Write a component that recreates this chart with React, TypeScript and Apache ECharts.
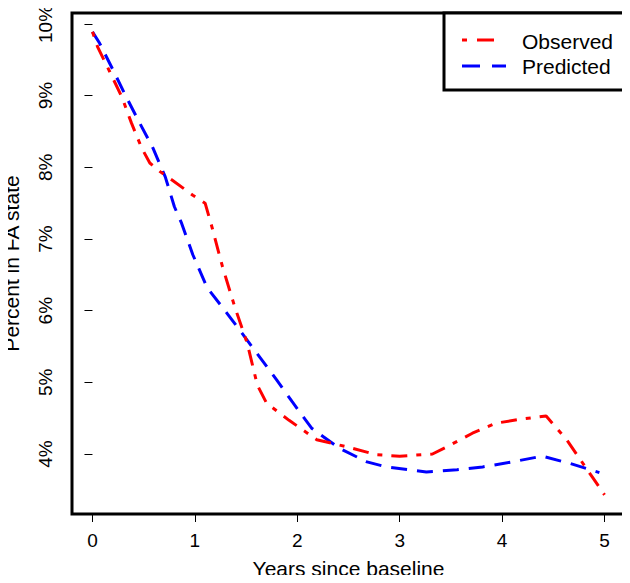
import React, { useEffect, useRef } from "react";
import * as echarts from "echarts";

const obsYears = [0, 0.05, 0.17, 0.29, 0.38, 0.48, 0.56, 0.66, 0.78, 0.98, 1.1, 1.17, 1.27, 1.39, 1.51, 1.61, 1.7, 1.92, 2.19, 2.54, 2.77, 3.0, 3.32, 3.46, 3.71, 3.94, 4.2, 4.43, 4.63, 4.88, 5.0];
const obsPct = [9.89, 9.68, 9.33, 8.97, 8.62, 8.27, 8.06, 7.94, 7.82, 7.61, 7.5, 7.15, 6.61, 6.05, 5.55, 4.96, 4.71, 4.47, 4.2, 4.08, 3.99, 3.97, 4.0, 4.1, 4.29, 4.43, 4.49, 4.53, 4.2, 3.68, 3.43];

const predYears = [0, 0.07, 0.2, 0.33, 0.46, 0.59, 0.71, 0.8, 0.87, 0.98, 1.12, 1.31, 1.51, 1.8, 1.95, 2.14, 2.41, 2.68, 2.87, 3.26, 3.56, 3.81, 4.1, 4.39, 4.66, 4.95];
const predPct = [9.89, 9.73, 9.36, 8.98, 8.62, 8.27, 7.87, 7.45, 7.22, 6.78, 6.32, 5.97, 5.59, 5.03, 4.73, 4.36, 4.08, 3.89, 3.82, 3.75, 3.78, 3.82, 3.89, 3.97, 3.87, 3.74];

const xTicks = [0, 1, 2, 3, 4, 5];
const yTicks = [4, 5, 6, 7, 8, 9, 10];
const seriesNames = ["Observed", "Predicted"];

const FONT = "'Liberation Sans', Arial, sans-serif";

export default function App() {
  const ref = useRef<HTMLDivElement>(null);
  useEffect(() => {
    if (!ref.current) return;
    const chart = echarts.init(ref.current, null, { renderer: "svg" });
    const obsData = obsYears.map((x, i) => [x, obsPct[i]]);
    const predData = predYears.map((x, i) => [x, predPct[i]]);
    chart.setOption({
      animation: false,
      backgroundColor: "#fff",
      grid: {
        left: 72,
        right: 5,
        top: 13,
        bottom: 69,
        show: true,
        borderColor: "#000",
        borderWidth: 3,
        backgroundColor: "transparent",
        containLabel: false,
        outerBoundsMode: "none",
      },
      xAxis: {
        type: "value",
        min: -0.2,
        max: 5.2,
        name: "Years since baseline",
        nameLocation: "middle",
        nameGap: 44,
        nameTextStyle: { fontFamily: FONT, fontSize: 21, color: "#000" },
        axisLine: { show: false },
        splitLine: { show: false },
        axisTick: {
          show: true,
          length: 8,
          customValues: xTicks,
          lineStyle: { color: "#000", width: 1 },
        },
        axisLabel: {
          customValues: xTicks,
          margin: 17,
          fontFamily: FONT,
          fontSize: 19,
          color: "#000",
        },
      },
      yAxis: {
        type: "value",
        min: 3.163,
        max: 10.153,
        name: "Percent in FA state",
        nameLocation: "middle",
        nameGap: 50,
        nameTextStyle: { fontFamily: FONT, fontSize: 21, color: "#000" },
        axisLine: { show: false },
        splitLine: { show: false },
        axisTick: {
          show: true,
          length: 8,
          customValues: yTicks,
          lineStyle: { color: "#000", width: 1 },
        },
        axisLabel: {
          customValues: yTicks,
          rotate: 90,
          margin: 17,
          fontFamily: FONT,
          fontSize: 19,
          color: "#000",
          formatter: (v: number) => `${Math.round(v)}%`,
        },
      },
      series: [
        {
          name: seriesNames[0],
          type: "line",
          data: obsData,
          symbol: "none",
          lineStyle: { color: "#FF0000", width: 3, type: [5, 9, 16, 9] },
          z: 3,
        },
        {
          name: seriesNames[1],
          type: "line",
          data: predData,
          symbol: "none",
          lineStyle: { color: "#0000FF", width: 3, type: [16, 10] },
          z: 2,
        },
      ],
      graphic: [
        {
          type: "rect",
          shape: { x: 444, y: 13, width: 181, height: 77 },
          style: { fill: "#fff", stroke: "#000", lineWidth: 3 },
          z: 10,
        },
        {
          type: "line",
          shape: { x1: 462, y1: 40, x2: 496, y2: 40 },
          style: { stroke: "#FF0000", lineWidth: 3, lineDash: [5, 10, 17, 10] },
          z: 11,
        },
        {
          type: "line",
          shape: { x1: 462, y1: 66, x2: 506, y2: 66 },
          style: { stroke: "#0000FF", lineWidth: 3, lineDash: [18, 12] },
          z: 11,
        },
        {
          type: "text",
          x: 522,
          y: 41,
          style: {
            text: seriesNames[0],
            fontFamily: FONT,
            fontSize: 21,
            fill: "#000",
            verticalAlign: "middle",
            align: "left",
          },
          z: 11,
        },
        {
          type: "text",
          x: 522,
          y: 66,
          style: {
            text: seriesNames[1],
            fontFamily: FONT,
            fontSize: 21,
            fill: "#000",
            verticalAlign: "middle",
            align: "left",
          },
          z: 11,
        },
      ],
    });
    return () => chart.dispose();
  }, []);
  return <div ref={ref} style={{ width: 630, height: 583, margin: -8 }} />;
}
